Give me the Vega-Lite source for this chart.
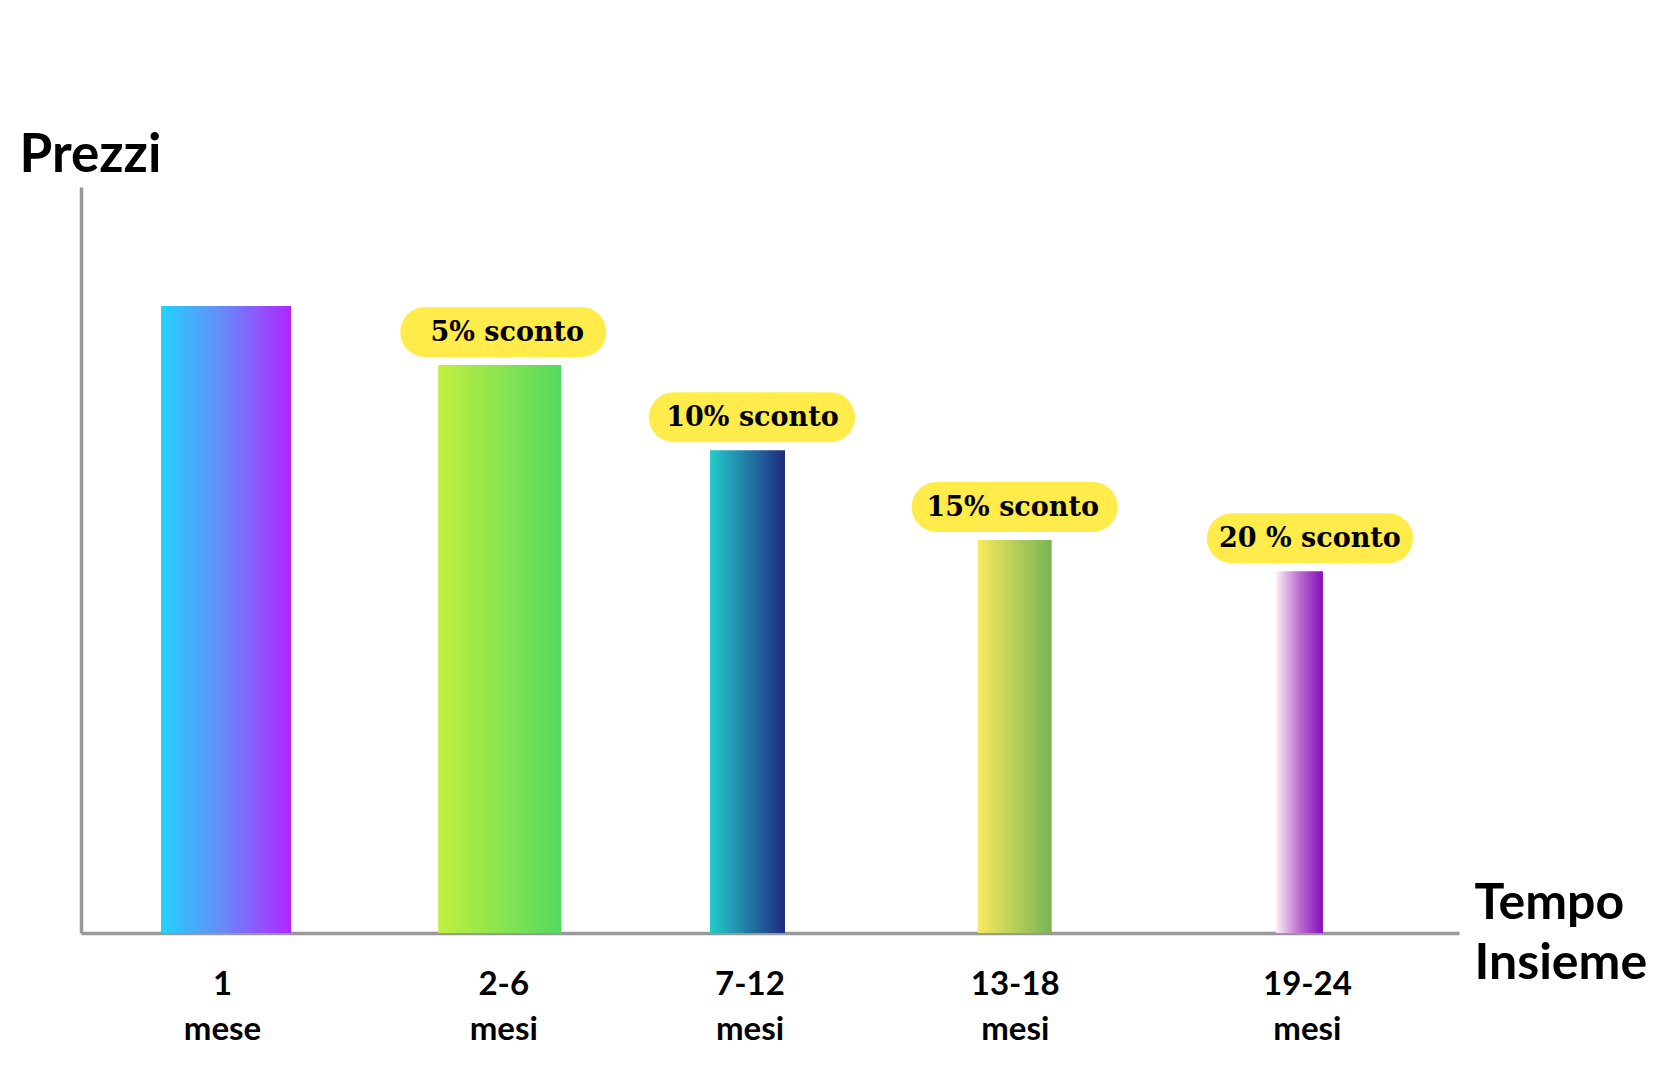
{
  "$schema": "https://vega.github.io/schema/vega-lite/v6.json",
  "width": 1378,
  "height": 746,
  "autosize": {"type": "none"},
  "padding": {"left": 81, "top": 187, "right": 211, "bottom": 147},
  "background": "white",
  "config": {"view": {"stroke": null}},
  "data": {
    "values": [
      {"periodo": "1 mese", "prezzo": 100, "sconto": ""},
      {"periodo": "2-6 mesi", "prezzo": 90.6, "sconto": "5% sconto"},
      {"periodo": "7-12 mesi", "prezzo": 77.0, "sconto": "10% sconto"},
      {"periodo": "13-18 mesi", "prezzo": 62.7, "sconto": "15% sconto"},
      {"periodo": "19-24 mesi", "prezzo": 57.7, "sconto": "20 % sconto"}
    ]
  },
  "encoding": {
    "x": {
      "field": "periodo",
      "type": "nominal",
      "sort": null,
      "scale": {
        "type": "point",
        "domain": ["1 mese", "2-6 mesi", "7-12 mesi", "13-18 mesi", "19-24 mesi"],
        "padding": 0.588,
        "align": 0.46
      },
      "axis": {
        "title": ["Tempo", "Insieme"],
        "titleX": 1393,
        "titleY": -15,
        "titleAlign": "left",
        "titleAnchor": null,
        "titleBaseline": "alphabetic",
        "titleFont": "Lato",
        "titleFontSize": 50,
        "titleFontWeight": "bold",
        "titleColor": "#000000",
        "titleLineHeight": 60,
        "labelExpr": "split(datum.label, ' ')",
        "labelFont": "Lato",
        "labelFontSize": 33,
        "labelFontWeight": "bold",
        "labelColor": "#000000",
        "labelAngle": 0,
        "labelPadding": 35,
        "labelLineHeight": 45,
        "labelBaseline": "top",
        "labelOffset": {
          "condition": [
            {"test": "datum.value == '1 mese'", "value": -3},
            {"test": "datum.value == '2-6 mesi'", "value": 12},
            {"test": "datum.value == '7-12 mesi'", "value": -8},
            {"test": "datum.value == '13-18 mesi'", "value": -9}
          ],
          "value": 17
        },
        "ticks": false,
        "grid": false,
        "domainColor": "#999999",
        "domainWidth": 3.5
      }
    },
    "y": {
      "field": "prezzo",
      "type": "quantitative",
      "scale": {"domain": [0, 119], "nice": false, "zero": true},
      "axis": {
        "title": "Prezzi",
        "titleAngle": 0,
        "titleX": -62,
        "titleY": -16,
        "titleAlign": "left",
        "titleAnchor": null,
        "titleBaseline": "alphabetic",
        "titleFont": "Lato",
        "titleFontSize": 53,
        "titleFontWeight": "bold",
        "titleColor": "#000000",
        "labels": false,
        "ticks": false,
        "grid": false,
        "domainColor": "#999999",
        "domainWidth": 3.5
      }
    }
  },
  "layer": [
    {
      "transform": [{"filter": "datum.periodo == '1 mese'"}],
      "mark": {
        "type": "bar",
        "width": 130,
        "xOffset": 1,
        "color": {
          "gradient": "linear", "x1": 0, "x2": 1, "y1": 0, "y2": 0,
          "stops": [
            {"offset": 0, "color": "#22d2fc"},
            {"offset": 0.5, "color": "#6b86f8"},
            {"offset": 1, "color": "#b026ff"}
          ]
        }
      }
    },
    {
      "transform": [{"filter": "datum.periodo == '2-6 mesi'"}],
      "layer": [
        {
          "mark": {
            "type": "bar",
            "width": 123,
            "xOffset": 8.5,
            "color": {
              "gradient": "linear", "x1": 0, "x2": 1, "y1": 0, "y2": 0,
              "stops": [
                {"offset": 0, "color": "#c2ef40"},
                {"offset": 1, "color": "#55d95f"}
              ]
            }
          }
        },
        {
          "mark": {
            "type": "point",
            "shape": "M -0.7573 -0.2427 L 0.7573 -0.2427 C 0.8913 -0.2427 1 -0.134 1 0 C 1 0.134 0.8913 0.2427 0.7573 0.2427 L -0.7573 0.2427 C -0.8913 0.2427 -1 0.134 -1 0 C -1 -0.134 -0.8913 -0.2427 -0.7573 -0.2427 Z",
            "size": 42436,
            "filled": true,
            "color": "#ffeb4a",
            "opacity": 1,
            "strokeWidth": 0,
            "xOffset": 12,
            "yOffset": -33
          }
        },
        {
          "mark": {
            "type": "text",
            "font": "DejaVu Serif",
            "fontWeight": "bold",
            "fontSize": 27,
            "color": "#000000",
            "baseline": "middle",
            "align": "center",
            "xOffset": 16,
            "yOffset": -32
          },
          "encoding": {"text": {"field": "sconto"}}
        }
      ]
    },
    {
      "transform": [{"filter": "datum.periodo == '7-12 mesi'"}],
      "layer": [
        {
          "mark": {
            "type": "bar",
            "width": 75,
            "xOffset": -10,
            "color": {
              "gradient": "linear", "x1": 0, "x2": 1, "y1": 0, "y2": 0,
              "stops": [
                {"offset": 0, "color": "#24cbcb"},
                {"offset": 1, "color": "#1e2b80"}
              ]
            }
          }
        },
        {
          "mark": {
            "type": "point",
            "shape": "M -0.7573 -0.2427 L 0.7573 -0.2427 C 0.8913 -0.2427 1 -0.134 1 0 C 1 0.134 0.8913 0.2427 0.7573 0.2427 L -0.7573 0.2427 C -0.8913 0.2427 -1 0.134 -1 0 C -1 -0.134 -0.8913 -0.2427 -0.7573 -0.2427 Z",
            "size": 42436,
            "filled": true,
            "color": "#ffeb4a",
            "opacity": 1,
            "strokeWidth": 0,
            "xOffset": -5.5,
            "yOffset": -33
          }
        },
        {
          "mark": {
            "type": "text",
            "font": "DejaVu Serif",
            "fontWeight": "bold",
            "fontSize": 27,
            "color": "#000000",
            "baseline": "middle",
            "align": "center",
            "xOffset": -5,
            "yOffset": -32
          },
          "encoding": {"text": {"field": "sconto"}}
        }
      ]
    },
    {
      "transform": [{"filter": "datum.periodo == '13-18 mesi'"}],
      "layer": [
        {
          "mark": {
            "type": "bar",
            "width": 74,
            "xOffset": -9,
            "color": {
              "gradient": "linear", "x1": 0, "x2": 1, "y1": 0, "y2": 0,
              "stops": [
                {"offset": 0, "color": "#f7ea5d"},
                {"offset": 1, "color": "#78b455"}
              ]
            }
          }
        },
        {
          "mark": {
            "type": "point",
            "shape": "M -0.7573 -0.2427 L 0.7573 -0.2427 C 0.8913 -0.2427 1 -0.134 1 0 C 1 0.134 0.8913 0.2427 0.7573 0.2427 L -0.7573 0.2427 C -0.8913 0.2427 -1 0.134 -1 0 C -1 -0.134 -0.8913 -0.2427 -0.7573 -0.2427 Z",
            "size": 42436,
            "filled": true,
            "color": "#ffeb4a",
            "opacity": 1,
            "strokeWidth": 0,
            "xOffset": -9,
            "yOffset": -33
          }
        },
        {
          "mark": {
            "type": "text",
            "font": "DejaVu Serif",
            "fontWeight": "bold",
            "fontSize": 27,
            "color": "#000000",
            "baseline": "middle",
            "align": "center",
            "xOffset": -11,
            "yOffset": -32
          },
          "encoding": {"text": {"field": "sconto"}}
        }
      ]
    },
    {
      "transform": [{"filter": "datum.periodo == '19-24 mesi'"}],
      "layer": [
        {
          "mark": {
            "type": "bar",
            "width": 47,
            "xOffset": 9.5,
            "color": {
              "gradient": "linear", "x1": 0, "x2": 1, "y1": 0, "y2": 0,
              "stops": [
                {"offset": 0, "color": "#fdf0f7"},
                {"offset": 0.5, "color": "#bb6bcf"},
                {"offset": 1, "color": "#850fbd"}
              ]
            }
          }
        },
        {
          "mark": {
            "type": "point",
            "shape": "M -0.7573 -0.2427 L 0.7573 -0.2427 C 0.8913 -0.2427 1 -0.134 1 0 C 1 0.134 0.8913 0.2427 0.7573 0.2427 L -0.7573 0.2427 C -0.8913 0.2427 -1 0.134 -1 0 C -1 -0.134 -0.8913 -0.2427 -0.7573 -0.2427 Z",
            "size": 42436,
            "filled": true,
            "color": "#ffeb4a",
            "opacity": 1,
            "strokeWidth": 0,
            "xOffset": 20,
            "yOffset": -33
          }
        },
        {
          "mark": {
            "type": "text",
            "font": "DejaVu Serif",
            "fontWeight": "bold",
            "fontSize": 27,
            "color": "#000000",
            "baseline": "middle",
            "align": "center",
            "xOffset": 20,
            "yOffset": -32
          },
          "encoding": {"text": {"field": "sconto"}}
        }
      ]
    }
  ]
}
